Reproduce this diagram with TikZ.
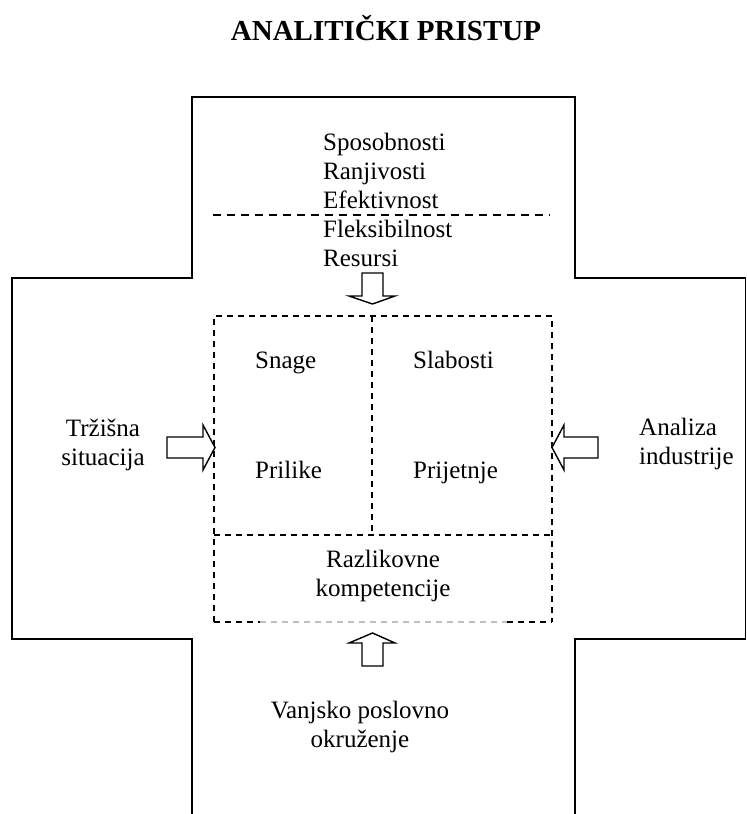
\documentclass[tikz,border=0pt]{standalone}
\usepackage{fontspec}
\setmainfont{Liberation Serif}
\begin{document}
\begin{tikzpicture}[x=1pt,y=-1pt,
  txt/.style={inner sep=0pt, font=\fontsize{25}{29}\selectfont},
  frame/.style={draw=black, line width=1.8pt, line join=miter},
  dbox/.style={draw=black, line width=1.4pt, dash pattern=on 6pt off 5pt},
  blockarrow/.style={draw=black, line width=1.4pt, fill=white, line join=miter}]
\useasboundingbox (0,0) rectangle (747,814);

% title
\node[inner sep=0pt, anchor=base, font=\fontsize{29}{34}\bfseries] (title) at (386,40) {ANALITIČKI PRISTUP};

% cross-shaped frame
\draw[frame] (192,814) -- (192,639) -- (12,639) -- (12,278) -- (192,278) -- (192,97)
  -- (575,97) -- (575,278) -- (745.5,278) -- (745.5,639) -- (575,639) -- (575,814);

% top list
\node[txt, anchor=base west] (spos) at (323,150) {Sposobnosti};
\node[txt, anchor=base west] (ranj) at (323,179) {Ranjivosti};
\node[txt, anchor=base west] (efek) at (323,208) {Efektivnost};
\node[txt, anchor=base west] (flek) at (323,237) {Fleksibilnost};
\node[txt, anchor=base west] (resu) at (323,266) {Resursi};
\draw[line width=1.4pt, dash pattern=on 8pt off 6pt] (213,215) -- (550,215);

% dashed SWOT box
\coordinate (bTL) at (214,316);
\coordinate (bTR) at (552,316);
\coordinate (bML) at (214,535);
\coordinate (bMR) at (552,535);
\coordinate (bBL) at (214,622);
\coordinate (bBR) at (552,622);
\coordinate (bTM) at (372,316);
\coordinate (bMM) at (372,535);
\draw[dbox] (bBL) -- (bTL) -- (bTR) -- (bBR);
\draw[dbox] (bML) -- (bMR);
\draw[dbox] (bTM) -- (bMM);
\draw[dbox] (bBL) -- (260,622);
\draw[draw=black!25, line width=1.4pt, dash pattern=on 6pt off 5pt] (260,622) -- (507,622);
\draw[dbox] (507,622) -- (bBR);

\node[txt, anchor=base west] (snage) at (255,368) {Snage};
\node[txt, anchor=base west] (slab) at (413,368) {Slabosti};
\node[txt, anchor=base west] (pril) at (255,478) {Prilike};
\node[txt, anchor=base west] (prij) at (413,478) {Prijetnje};
\node[txt, anchor=base] (razl) at (383,567) {Razlikovne};
\node[txt, anchor=base] (komp) at (383,596) {kompetencije};

% side texts
\node[txt, anchor=base] (trz) at (103,436) {Tržišna};
\node[txt, anchor=base] (sit) at (103,465) {situacija};
\node[txt, anchor=base west] (anal) at (639,435) {Analiza};
\node[txt, anchor=base west] (ind) at (639,464) {industrije};
\node[txt, anchor=base] (vanj) at (360,718) {Vanjsko poslovno};
\node[txt, anchor=base] (okr) at (360,747) {okruženje};

% block arrows
\draw[blockarrow] (362,273) -- (383,273) -- (383,296) -- (395,296) -- (372.5,304)
  -- (349,296) -- (362,296) -- cycle;
\draw[blockarrow] (362,666) -- (383,666) -- (383,643) -- (395,643) -- (372.5,633)
  -- (349,643) -- (362,643) -- cycle;
\draw[blockarrow] (167,437) -- (203,437) -- (203,425) -- (215,447.5) -- (203,470)
  -- (203,458) -- (167,458) -- cycle;
\draw[blockarrow] (598,437) -- (564,437) -- (564,425) -- (552,447.5) -- (564,470)
  -- (564,458) -- (598,458) -- cycle;
\end{tikzpicture}
\end{document}
